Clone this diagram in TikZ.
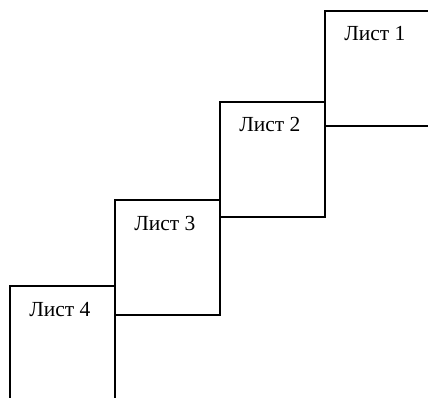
\documentclass[tikz,border=0pt]{standalone}
\usepackage{fontspec}
\setmainfont{Liberation Serif}
\begin{document}
\begin{tikzpicture}[x=1pt,y=-1pt,
  sheet/.style={draw=black, line width=1.8pt, minimum width=105pt, minimum height=115pt, inner sep=0pt, anchor=north west},
  sheetlabel/.style={font=\fontsize{21.5}{25}\selectfont, anchor=base, inner sep=0pt, xshift=-2.5pt}]
\useasboundingbox (0,0) rectangle (428,398);
\clip (0,0) rectangle (428,398);
\node[sheet] (b4) at (9,285) {};
\node[sheet] (b3) at (114,199) {};
\node[sheet] (b2) at (219,101) {};
\node[sheet] (b1) at (324,10) {};
\node[sheetlabel] (t1) at ([yshift=-31pt]b1.north) {Лист 1};
\node[sheetlabel] (t2) at ([yshift=-31pt]b2.north) {Лист 2};
\node[sheetlabel] (t3) at ([yshift=-31pt]b3.north) {Лист 3};
\node[sheetlabel] (t4) at ([yshift=-31pt]b4.north) {Лист 4};
\end{tikzpicture}
\end{document}
